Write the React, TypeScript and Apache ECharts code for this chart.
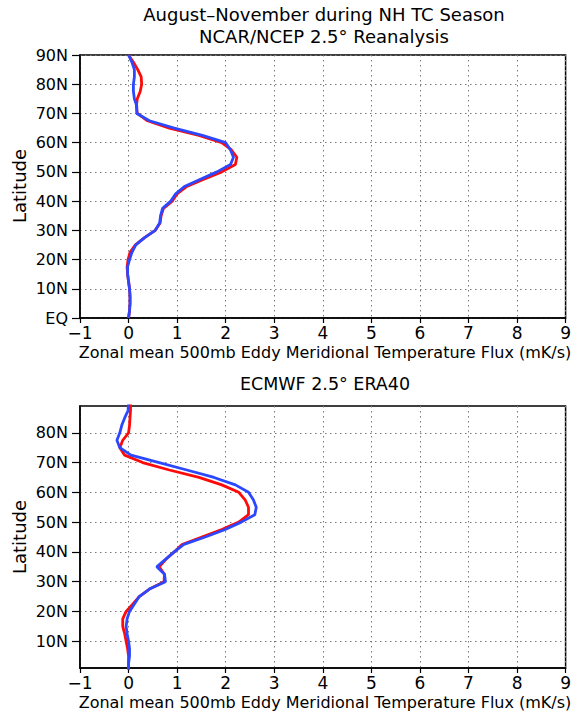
import React, { useEffect, useRef } from "react";
import * as echarts from "echarts";

const LATS = [0, 2.5, 5, 7.5, 10, 12.5, 15, 17.5, 20, 22.5, 25, 27.5, 30, 32.5, 35, 37.5, 40, 42.5, 45, 47.5, 50, 52.5, 55, 57.5, 60, 62.5, 65, 67.5, 70, 72.5, 75, 77.5, 80, 82.5, 85, 87.5, 90];

const NCAR_RED = [0.00, 0.02, 0.03, 0.03, 0.02, 0.00, -0.02, -0.03, -0.01, 0.03, 0.14, 0.33, 0.55, 0.65, 0.67, 0.72, 0.90, 1.00, 1.20, 1.55, 1.92, 2.20, 2.23, 2.12, 1.92, 1.45, 0.84, 0.39, 0.18, 0.16, 0.18, 0.24, 0.27, 0.26, 0.19, 0.10, 0.00];
const NCAR_BLUE = [0.00, 0.02, 0.03, 0.03, 0.02, 0.00, -0.02, -0.02, 0.02, 0.07, 0.15, 0.33, 0.55, 0.64, 0.66, 0.70, 0.87, 0.97, 1.15, 1.48, 1.82, 2.10, 2.16, 2.10, 2.00, 1.52, 0.94, 0.43, 0.17, 0.17, 0.12, 0.10, 0.10, 0.12, 0.12, 0.07, 0.00];

const ERA_RED = [0.00, 0.00, 0.00, -0.02, -0.05, -0.08, -0.12, -0.12, -0.05, 0.09, 0.22, 0.43, 0.73, 0.74, 0.63, 0.77, 0.94, 1.10, 1.51, 1.92, 2.27, 2.47, 2.47, 2.40, 2.27, 1.92, 1.45, 0.84, 0.29, -0.08, -0.18, -0.12, 0.00, 0.02, 0.03, 0.04, 0.04];
const ERA_BLUE = [0.00, 0.00, 0.02, 0.02, 0.00, -0.03, -0.05, -0.03, 0.02, 0.12, 0.22, 0.43, 0.76, 0.74, 0.58, 0.76, 0.94, 1.14, 1.58, 1.99, 2.32, 2.60, 2.63, 2.57, 2.47, 2.20, 1.76, 1.20, 0.63, 0.05, -0.18, -0.24, -0.18, -0.14, -0.08, -0.01, 0.00];

const TOP_LAT_TICKS = [0, 10, 20, 30, 40, 50, 60, 70, 80, 90];
const BOTTOM_LAT_TICKS = [10, 20, 30, 40, 50, 60, 70, 80];

const TITLE_1 = "August\u2013November during NH TC Season";
const TITLE_2 = "NCAR/NCEP 2.5\u00b0 Reanalysis";
const TITLE_3 = "ECMWF 2.5\u00b0 ERA40";
const X_NAME = "Zonal mean 500mb Eddy Meridional Temperature Flux (mK/s)";
const Y_NAME = "Latitude";

const FONT = "DejaVu Sans";
const RED = "#ff0a0a";
const BLUE = "#2c48ff";

function pairs(xs: number[]) {
  return xs.map((v, i) => [v, LATS[i]]);
}

function latLabel(v: number) {
  return v === 0 ? "EQ" : `${v}N`;
}

export default function App() {
  const ref = useRef<HTMLDivElement>(null);
  useEffect(() => {
    if (!ref.current) return;
    const chart = echarts.init(ref.current, undefined, { renderer: "svg" });
    const gridLine = { show: true, lineStyle: { color: "#7a7a7a", type: [1.5, 3.5], width: 1 } };
    const xAxisBase = (gridIndex: number) => ({
      type: "value",
      gridIndex,
      min: -1,
      max: 9,
      interval: 1,
      axisLine: { show: true, onZero: false, lineStyle: { color: "#000", width: 1.5 } },
      axisTick: { show: true, inside: false, length: 5, lineStyle: { color: "#000", width: 1.2 } },
      axisLabel: {
        color: "#000",
        fontFamily: FONT,
        fontSize: 17,
        margin: 6,
        formatter: (v: number) => (v < 0 ? "\u2212" + Math.abs(v) : String(v)),
      },
      splitLine: gridLine,
    });
    const yAxisBase = (gridIndex: number, min: number, max: number, ticks: number[]) => ({
      type: "value",
      gridIndex,
      min,
      max,
      axisLine: { show: true, onZero: false, lineStyle: { color: "#000", width: 1.5 } },
      axisTick: { show: true, inside: false, length: 8, customValues: ticks, lineStyle: { color: "#000", width: 1.2 } },
      axisLabel: {
        color: "#000",
        fontFamily: FONT,
        fontSize: 16,
        margin: 12,
        customValues: ticks,
        formatter: latLabel,
      },
      splitLine: gridLine,
    });
    const lineSeries = (name: string, data: number[][], color: string, idx: number, z: number) => ({
      name,
      type: "line",
      xAxisIndex: idx,
      yAxisIndex: idx,
      data,
      showSymbol: false,
      symbol: "none",
      clip: true,
      z,
      lineStyle: { color, width: 2.8 },
    });
    const text = (t: string, x: number, y: number, size: number, rotation = 0) => ({
      type: "text",
      x,
      y,
      rotation,
      style: {
        text: t,
        fill: "#000",
        font: `${size}px '${FONT}'`,
        align: "center",
        verticalAlign: "middle",
      },
    });
    chart.setOption({
      animation: false,
      backgroundColor: "#fff",
      grid: [
        { left: 80, right: 4, top: 55, height: 263, show: true, borderColor: "#000", borderWidth: 1.5, backgroundColor: "transparent" },
        { left: 80, right: 4, top: 406, height: 262, show: true, borderColor: "#000", borderWidth: 1.5, backgroundColor: "transparent" },
      ],
      xAxis: [xAxisBase(0), xAxisBase(1)],
      yAxis: [yAxisBase(0, 0, 90, TOP_LAT_TICKS), yAxisBase(1, 1, 89, BOTTOM_LAT_TICKS)],
      series: [
        lineSeries("NCAR red", pairs(NCAR_RED), RED, 0, 2),
        lineSeries("NCAR blue", pairs(NCAR_BLUE), BLUE, 0, 3),
        lineSeries("ERA red", pairs(ERA_RED), RED, 1, 2),
        lineSeries("ERA blue", pairs(ERA_BLUE), BLUE, 1, 3),
      ],
      graphic: [
        text(TITLE_1, 324, 14, 18),
        text(TITLE_2, 324, 36, 18),
        text(TITLE_3, 325, 384, 17.5),
        text(X_NAME, 325, 352, 16),
        text(X_NAME, 325, 702, 16),
        text(Y_NAME, 19.5, 186, 18, Math.PI / 2),
        text(Y_NAME, 19.5, 537, 18, Math.PI / 2),
      ],
    });
    return () => chart.dispose();
  }, []);
  return <div ref={ref} style={{ position: "absolute", left: 0, top: 0, width: 574, height: 711 }} />;
}
